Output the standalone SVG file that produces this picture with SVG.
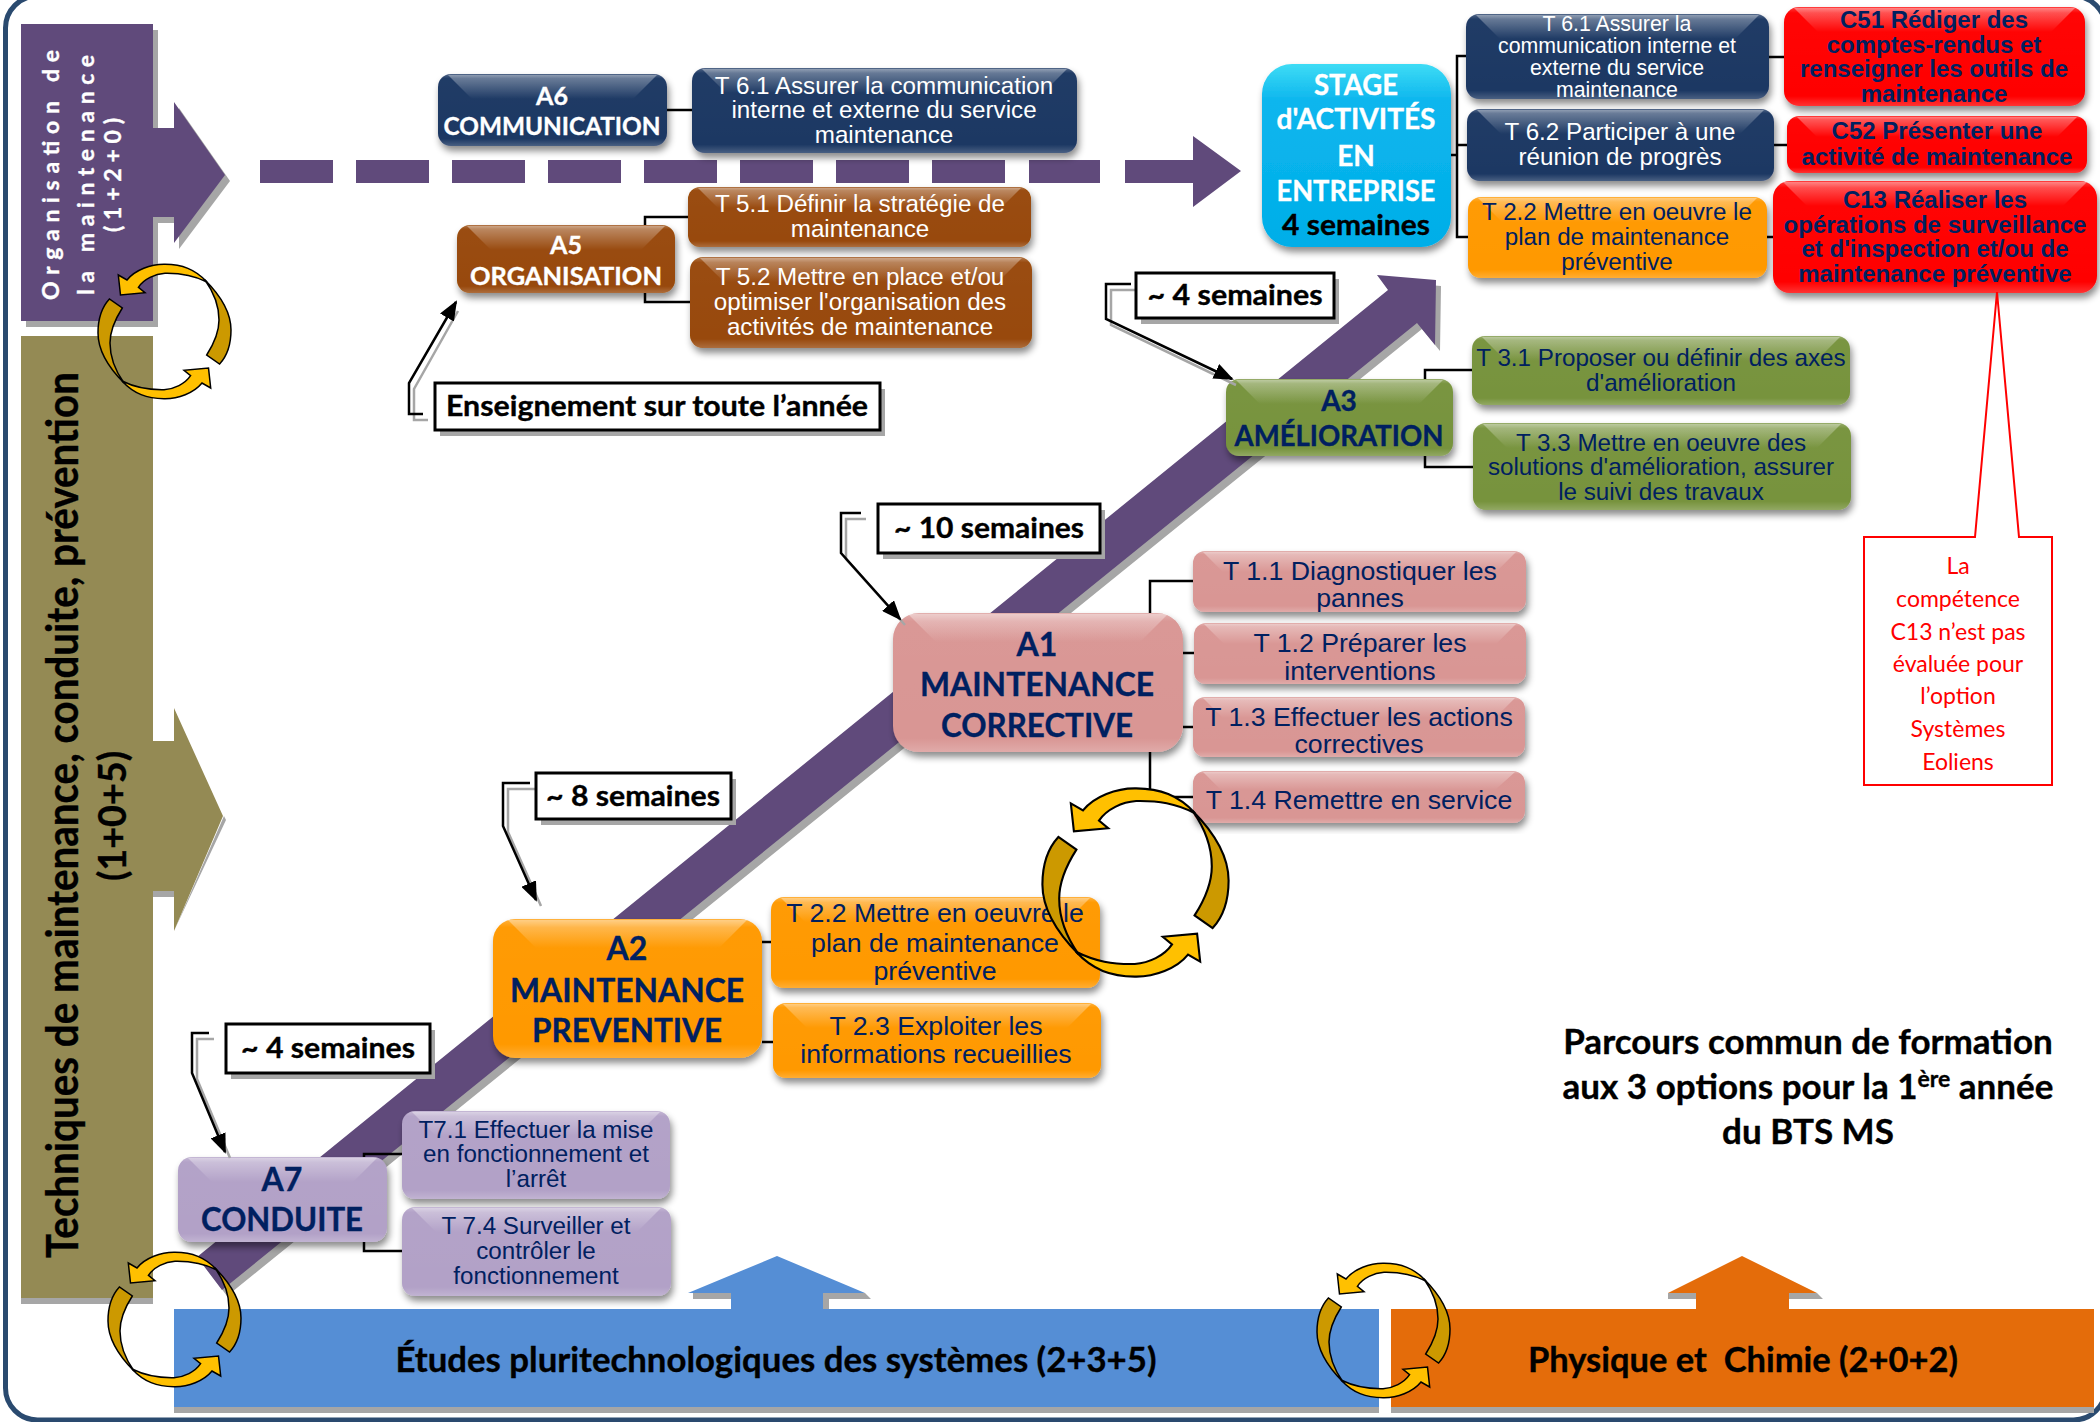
<svg xmlns="http://www.w3.org/2000/svg" width="2100" height="1422" viewBox="0 0 2100 1422">
<style>
text{text-anchor:middle}
.a{font-family:"Liberation Sans",Arial,sans-serif;font-size:24.2px}
.t{font-size:26.7px}
.ab{font-family:"Liberation Sans",Arial,sans-serif;font-size:24px;font-weight:700;fill:#002060}
.b{font-family:Lato,"Open Sans",sans-serif;font-weight:700}
.w{fill:#fff}.n{fill:#002060}.k{fill:#000}
.b.w{stroke:#fff;stroke-width:.35}.b.n{stroke:#002060;stroke-width:.35}.b.k{stroke:#000;stroke-width:.35}
.box{filter:url(#sh)}
.g{fill:url(#gloss)}
.s{fill:#a6a6a6}
.con{fill:none;stroke:#000;stroke-width:2.5}
.cb{fill:#fff;stroke:#000;stroke-width:3}
.cs{fill:#a6a6a6}
.lead{fill:none;stroke:#000;stroke-width:2.5}
.leads{fill:none;stroke:#a6a6a6;stroke-width:2.5}
.cy{stroke:#000;stroke-width:1.5;stroke-linejoin:miter}
</style>
<defs>
<filter id="sh" x="-10%" y="-15%" width="120%" height="135%"><feDropShadow dx="2" dy="5" stdDeviation="3.5" flood-color="#000" flood-opacity="0.45"/></filter>
<linearGradient id="gloss" x1="0" y1="0" x2="0" y2="1"><stop offset="0" stop-color="#fff" stop-opacity="0.38"/><stop offset="1" stop-color="#fff" stop-opacity="0"/></linearGradient>
<linearGradient id="lip" x1="0" y1="0" x2="0" y2="1"><stop offset="0" stop-color="#fff" stop-opacity="0.25"/><stop offset="0.06" stop-color="#fff" stop-opacity="0.02"/><stop offset="0.9" stop-color="#fff" stop-opacity="0"/><stop offset="1" stop-color="#fff" stop-opacity="0.2"/></linearGradient>
<linearGradient id="stg" x1="0" y1="0" x2="0" y2="1"><stop offset="0" stop-color="#3fdcf5"/><stop offset="0.2" stop-color="#0cb6ee"/><stop offset="1" stop-color="#00aee8"/></linearGradient>
<marker id="ah" markerWidth="22" markerHeight="16" refX="18" refY="8" orient="auto" markerUnits="userSpaceOnUse"><path d="M0,0L20,8L0,16Z" fill="#000"/></marker>
<g id="half"><path class="cy" fill="#ffc000" d="M21.3,11L30,16C38,6 54,0 68,0.3C85,0.5 98,5 110,18C96,11 84,9 68,9.3C58,10 47,15 41.4,23.3L48,28.7L23.5,31Z"/><path class="cy" fill="#cc9900" d="M108,16C124,32 134,48 134,66C134,80 130,92 122.6,100L109.7,91C118,78 122,66 122,56C122,42 118,30 108,16Z"/></g>
<g id="cycle"><use href="#half"/><use href="#half" transform="rotate(180 67.5 67.5)"/></g>
</defs>
<rect width="2100" height="1422" fill="#fff"/>
<rect x="5.5" y="-4" width="2100" height="1424" rx="32" fill="none" stroke="#2a4a6f" stroke-width="5"/>

<g id="bande-organisation">
<path class="s" d="M26,30H158V134H179V108L230,181L179,249V223H158V327H26Z"/>
<path fill="#604a7b" d="M21,24H153V128H174V102L225,175L174,243V217H153V321H21Z"/>
<g class="b w" font-size="23" transform="rotate(-90)">
<text x="-175" y="59" textLength="250" lengthAdjust="spacing">Organisation de</text>
<text x="-175" y="94" textLength="240" lengthAdjust="spacing">la maintenance</text>
<text x="-175" y="121" textLength="114" lengthAdjust="spacing">(1+2+0)</text>
</g>
</g>
<g id="bande-techniques">
<path class="s" d="M21,1290H153V1304H21ZM153,891H175V897H153ZM174,931L226,820L224,816Z"/>
<path fill="#948a54" d="M21,336H153V741H174V708L223,816L174,931V891H153V1298H21Z"/>
<g class="b k" transform="rotate(-90)">
<text x="-815" y="78" font-size="43" textLength="886" lengthAdjust="spacingAndGlyphs">Techniques de maintenance, conduite, prévention</text>
<text x="-816" y="126" font-size="38" textLength="130" lengthAdjust="spacingAndGlyphs">(1+0+5)</text>
</g>
</g>

<g id="fleche-tirets">
<path fill="#604a7b" d="M260,160h73v23h-73ZM356,160h73v23h-73ZM452,160h73v23h-73ZM548,160h73v23h-73ZM644,160h73v23h-73ZM740,160h73v23h-73ZM836,160h73v23h-73ZM932,160h73v23h-73ZM1029,160h71v23h-71ZM1125,160h68V136L1241,171L1193,207V183h-68Z"/>
</g>
<g id="fleche-diagonale">
<path class="s" d="M202,1263L1393,296L1382,281L1441,286L1440,351L1422,329L227,1296Z"/>
<path fill="#604a7b" d="M197,1257L1388,290L1377,275L1436,280L1435,345L1417,323L222,1290Z"/>
</g>

<g id="connecteurs">
<path class="con" d="M667,110H692M645,225V217H690M645,293V302H690"/>
<path class="con" d="M1451,155H1457M1466,56H1457V237H1468M1457,145H1467M1769,57H1784M1774,145H1787M1767,237H1773"/>
<path class="con" d="M1425,379V370H1472M1425,456V467H1473"/>
<path class="con" d="M1150,613V581H1193M1150,752V797H1193M1183,653H1194M1183,727H1193"/>
<path class="con" d="M762,942H771M762,1042H773"/>
<path class="con" d="M364,1157V1154H402M364,1242V1251H402"/>
</g>

<g id="A6"><rect class="box" x="438" y="74" width="229" height="72" rx="13" fill="#1f3864"/><path class="g" d="M448,75H657L633,99H472Z"/><rect x="438" y="74" width="229" height="72" rx="13" fill="url(#lip)"/><text class="b w" x="552" y="105" font-size="25">A6</text><text class="b w" x="552" y="135" font-size="25" textLength="217" lengthAdjust="spacingAndGlyphs">COMMUNICATION</text></g>
<g id="T6-1a"><rect class="box" x="692" y="68" width="385" height="85" rx="13" fill="#1f3864"/><path class="g" d="M702,69H1067L1043,93H726Z"/><rect x="692" y="68" width="385" height="85" rx="13" fill="url(#lip)"/><text class="a w" x="884" y="94">T 6.1 Assurer la communication</text><text class="a w" x="884" y="118">interne et externe du service</text><text class="a w" x="884" y="143">maintenance</text></g>
<g id="A5"><rect class="box" x="457" y="225" width="218" height="68" rx="13" fill="#984807"/><path class="g" d="M467,226H665L641,250H491Z"/><rect x="457" y="225" width="218" height="68" rx="13" fill="url(#lip)"/><text class="b w" x="566" y="254" font-size="25">A5</text><text class="b w" x="566" y="285" font-size="25" textLength="192" lengthAdjust="spacingAndGlyphs">ORGANISATION</text></g>
<g id="T5-1"><rect class="box" x="688" y="187" width="343" height="60" rx="12" fill="#984807"/><path class="g" d="M698,188H1021L1001,208H718Z"/><rect x="688" y="187" width="343" height="60" rx="12" fill="url(#lip)"/><text class="a w" x="860" y="212">T 5.1 Définir la stratégie de</text><text class="a w" x="860" y="237">maintenance</text></g>
<g id="T5-2"><rect class="box" x="690" y="257" width="342" height="91" rx="13" fill="#984807"/><path class="g" d="M700,258H1022L998,282H724Z"/><rect x="690" y="257" width="342" height="91" rx="13" fill="url(#lip)"/><text class="a w" x="860" y="285">T 5.2 Mettre en place et/ou</text><text class="a w" x="860" y="310">optimiser l'organisation des</text><text class="a w" x="860" y="335">activités de maintenance</text></g>

<g id="stage"><rect class="box" x="1262" y="64" width="189" height="183" rx="30" fill="url(#stg)"/>
<text class="b w" x="1356" y="95" font-size="28" textLength="84" lengthAdjust="spacingAndGlyphs">STAGE</text><text class="b w" x="1356" y="129" font-size="28" textLength="159" lengthAdjust="spacingAndGlyphs">d'ACTIVITÉS</text><text class="b w" x="1356" y="166" font-size="28">EN</text><text class="b w" x="1356" y="201" font-size="28" textLength="159" lengthAdjust="spacingAndGlyphs">ENTREPRISE</text><text class="b k" x="1356" y="235" font-size="28" textLength="148" lengthAdjust="spacingAndGlyphs">4 semaines</text></g>
<g id="T6-1b"><rect class="box" x="1466" y="14" width="303" height="85" rx="13" fill="#1f3864"/><path class="g" d="M1476,15H1759L1735,39H1500Z"/><rect x="1466" y="14" width="303" height="85" rx="13" fill="url(#lip)"/><g class="a w" style="font-size:21.3px"><text x="1617" y="31">T 6.1 Assurer la</text><text x="1617" y="53">communication interne et</text><text x="1617" y="75">externe du service</text><text x="1617" y="97">maintenance</text></g></g>
<g id="T6-2"><rect class="box" x="1467" y="109" width="307" height="72" rx="13" fill="#1f3864"/><path class="g" d="M1477,110H1764L1740,134H1501Z"/><rect x="1467" y="109" width="307" height="72" rx="13" fill="url(#lip)"/><text class="a w" x="1620" y="140">T 6.2 Participer à une</text><text class="a w" x="1620" y="165">réunion de progrès</text></g>
<g id="T2-2b"><rect class="box" x="1468" y="197" width="299" height="81" rx="13" fill="#ff9900"/><path class="g" d="M1478,198H1757L1733,222H1502Z"/><rect x="1468" y="197" width="299" height="81" rx="13" fill="url(#lip)"/><text class="a n" x="1617" y="220">T 2.2 Mettre en oeuvre le</text><text class="a n" x="1617" y="245">plan de maintenance</text><text class="a n" x="1617" y="270">préventive</text></g>
<g id="C51"><rect class="box" x="1784" y="7" width="301" height="99" rx="15" fill="#ff0000"/><path class="g" d="M1794,8H2075L2051,32H1818Z"/><rect x="1784" y="7" width="301" height="99" rx="15" fill="url(#lip)"/><text class="ab" x="1934" y="28">C51 Rédiger des</text><text class="ab" x="1934" y="53">comptes-rendus et</text><text class="ab" x="1934" y="77">renseigner les outils de</text><text class="ab" x="1934" y="102">maintenance</text></g>
<g id="C52"><rect class="box" x="1787" y="116" width="300" height="57" rx="12" fill="#ff0000"/><path class="g" d="M1797,117H2077L2057,137H1817Z"/><rect x="1787" y="116" width="300" height="57" rx="12" fill="url(#lip)"/><text class="ab" x="1937" y="139">C52 Présenter une</text><text class="ab" x="1937" y="165">activité de maintenance</text></g>
<g id="C13"><rect class="box" x="1773" y="181" width="324" height="112" rx="17" fill="#ff0000"/><path class="g" d="M1783,182H2087L2063,206H1807Z"/><rect x="1773" y="181" width="324" height="112" rx="17" fill="url(#lip)"/><text class="ab" x="1935" y="208">C13 Réaliser les</text><text class="ab" x="1935" y="233">opérations de surveillance</text><text class="ab" x="1935" y="257">et d'inspection et/ou de</text><text class="ab" x="1935" y="282">maintenance préventive</text></g>
<g id="A3"><rect class="box" x="1226" y="379" width="227" height="77" rx="13" fill="#77933c"/><path class="g" d="M1236,380H1443L1419,404H1260Z"/><rect x="1226" y="379" width="227" height="77" rx="13" fill="url(#lip)"/><text class="b n" x="1339" y="411" font-size="28">A3</text><text class="b n" x="1339" y="446" font-size="28" textLength="209" lengthAdjust="spacingAndGlyphs">AMÉLIORATION</text></g>
<g id="T3-1"><rect class="box" x="1472" y="336" width="378" height="69" rx="13" fill="#77933c"/><path class="g" d="M1482,337H1840L1816,361H1506Z"/><rect x="1472" y="336" width="378" height="69" rx="13" fill="url(#lip)"/><text class="a n" x="1661" y="366">T 3.1 Proposer ou définir des axes</text><text class="a n" x="1661" y="391">d'amélioration</text></g>
<g id="T3-3"><rect class="box" x="1473" y="423" width="378" height="87" rx="13" fill="#77933c"/><path class="g" d="M1483,424H1841L1817,448H1507Z"/><rect x="1473" y="423" width="378" height="87" rx="13" fill="url(#lip)"/><text class="a n" x="1661" y="451">T 3.3 Mettre en oeuvre des</text><text class="a n" x="1661" y="475">solutions d'amélioration, assurer</text><text class="a n" x="1661" y="500">le suivi des travaux</text></g>
<g id="A1"><rect class="box" x="893" y="613" width="290" height="139" rx="26" fill="#d99694"/><path class="g" d="M908,614H1168L1140,642H936Z"/><rect x="893" y="613" width="290" height="139" rx="26" fill="url(#lip)"/><text class="b n" x="1037" y="656" font-size="32">A1</text><text class="b n" x="1037" y="696" font-size="32" textLength="234" lengthAdjust="spacingAndGlyphs">MAINTENANCE</text><text class="b n" x="1037" y="737" font-size="32" textLength="192" lengthAdjust="spacingAndGlyphs">CORRECTIVE</text></g>
<g id="T1-1"><rect class="box" x="1193" y="551" width="333" height="61" rx="12" fill="#d99694"/><path class="g" d="M1203,552H1516L1496,572H1223Z"/><rect x="1193" y="551" width="333" height="61" rx="12" fill="url(#lip)"/><g class="a n t"><text x="1360" y="580">T 1.1 Diagnostiquer les</text><text x="1360" y="607">pannes</text></g></g>
<g id="T1-2"><rect class="box" x="1194" y="623" width="332" height="61" rx="12" fill="#d99694"/><path class="g" d="M1204,624H1516L1496,644H1224Z"/><rect x="1194" y="623" width="332" height="61" rx="12" fill="url(#lip)"/><g class="a n t"><text x="1360" y="652">T 1.2 Préparer les</text><text x="1360" y="680">interventions</text></g></g>
<g id="T1-3"><rect class="box" x="1193" y="697" width="332" height="60" rx="12" fill="#d99694"/><path class="g" d="M1203,698H1515L1495,718H1223Z"/><rect x="1193" y="697" width="332" height="60" rx="12" fill="url(#lip)"/><g class="a n t"><text x="1359" y="726">T 1.3 Effectuer les actions</text><text x="1359" y="753">correctives</text></g></g>
<g id="T1-4"><rect class="box" x="1193" y="771" width="332" height="52" rx="12" fill="#d99694"/><path class="g" d="M1203,772H1515L1495,790H1221Z"/><rect x="1193" y="771" width="332" height="52" rx="12" fill="url(#lip)"/><g class="a n t"><text x="1359" y="809">T 1.4 Remettre en service</text></g></g>
<g id="A2"><rect class="box" x="493" y="919" width="269" height="139" rx="22" fill="#ff9900"/><path class="g" d="M508,920H747L719,948H536Z"/><rect x="493" y="919" width="269" height="139" rx="22" fill="url(#lip)"/><text class="b n" x="627" y="960" font-size="32">A2</text><text class="b n" x="627" y="1002" font-size="32" textLength="234" lengthAdjust="spacingAndGlyphs">MAINTENANCE</text><text class="b n" x="627" y="1042" font-size="32" textLength="190" lengthAdjust="spacingAndGlyphs">PREVENTIVE</text></g>
<g id="T2-2a"><rect class="box" x="771" y="897" width="329" height="91" rx="13" fill="#ff9900"/><path class="g" d="M781,898H1090L1066,922H805Z"/><rect x="771" y="897" width="329" height="91" rx="13" fill="url(#lip)"/><g class="a n t"><text x="935" y="922">T 2.2 Mettre en oeuvre le</text><text x="935" y="952">plan de maintenance</text><text x="935" y="980">préventive</text></g></g>
<g id="T2-3"><rect class="box" x="773" y="1003" width="328" height="75" rx="13" fill="#ff9900"/><path class="g" d="M783,1004H1091L1067,1028H807Z"/><rect x="773" y="1003" width="328" height="75" rx="13" fill="url(#lip)"/><g class="a n t"><text x="936" y="1035">T 2.3 Exploiter les</text><text x="936" y="1063">informations recueillies</text></g></g>
<g id="A7"><rect class="box" x="178" y="1157" width="209" height="85" rx="14" fill="#b2a1c7"/><path class="g" d="M188,1158H377L353,1182H212Z"/><rect x="178" y="1157" width="209" height="85" rx="14" fill="url(#lip)"/><text class="b n" x="282" y="1191" font-size="32">A7</text><text class="b n" x="282" y="1231" font-size="32" textLength="162" lengthAdjust="spacingAndGlyphs">CONDUITE</text></g>
<g id="T7-1"><rect class="box" x="402" y="1111" width="268" height="88" rx="13" fill="#b2a1c7"/><path class="g" d="M412,1112H660L636,1136H436Z"/><rect x="402" y="1111" width="268" height="88" rx="13" fill="url(#lip)"/><text class="a n" x="536" y="1138">T7.1 Effectuer la mise</text><text class="a n" x="536" y="1162">en fonctionnement et</text><text class="a n" x="536" y="1187">l’arrêt</text></g>
<g id="T7-4"><rect class="box" x="402" y="1207" width="269" height="89" rx="13" fill="#b2a1c7"/><path class="g" d="M412,1208H661L637,1232H436Z"/><rect x="402" y="1207" width="269" height="89" rx="13" fill="url(#lip)"/><text class="a n" x="536" y="1234">T 7.4 Surveiller et</text><text class="a n" x="536" y="1259">contrôler le</text><text class="a n" x="536" y="1284">fonctionnement</text></g>

<g id="note-C13"><path fill="#fff" stroke="#ff0000" stroke-width="2" d="M1864,537H1975L1997,292L2019,537H2052V785H1864Z"/><g font-family="Lato,sans-serif" fill="#ff0000" font-size="23"><text x="1958" y="574">La</text><text x="1958" y="607">compétence</text><text x="1958" y="640">C13 n’est pas</text><text x="1958" y="672">évaluée pour</text><text x="1958" y="704">l’option</text><text x="1958" y="737">Systèmes</text><text x="1958" y="770">Eoliens</text></g></g>

<g id="bande-etudes">
<path class="s" d="M174,1400H1379V1413H174ZM693,1293H865L871,1299H829V1309H731V1299H693Z"/>
<path fill="#558ed5" d="M174,1309H731V1293H688L777,1256L865,1293H823V1309H1379V1407H174Z"/>
<text class="b k" x="776" y="1372" font-size="34" textLength="761" lengthAdjust="spacingAndGlyphs">Études pluritechnologiques des systèmes (2+3+5)</text>
</g>
<g id="bande-physique">
<path class="s" d="M1391,1400H2094V1413H1391ZM1668,1293H1817L1823,1299H1789V1309H1696V1299H1668Z"/>
<path fill="#e46c0a" d="M1391,1309H1696V1293H1668L1742,1256L1817,1293H1789V1309H2094V1407H1391Z"/>
<text class="b k" x="1743" y="1372" font-size="34" textLength="430" lengthAdjust="spacingAndGlyphs" xml:space="preserve">Physique et  Chimie (2+0+2)</text>
</g>

<g id="titre" class="b k" font-size="35"><text x="1808" y="1054">Parcours commun de formation</text><text x="1808" y="1099">aux 3 options pour la 1<tspan font-size="23" dy="-12">ère</tspan><tspan dy="12"> année</tspan></text><text x="1808" y="1144">du BTS MS</text></g>

<g id="cal-ens"><path class="leads" d="M428,420H414V389L458,311"/><path class="lead" marker-end="url(#ah)" d="M423,414H409V383L456,302"/><rect class="cs" x="440" y="389" width="445" height="47"/><rect class="cb" x="435" y="383" width="445" height="47"/><text class="b k" x="657" y="416" font-size="28" textLength="422" lengthAdjust="spacingAndGlyphs">Enseignement sur toute l’année</text></g>
<g id="cal-a3"><path class="leads" d="M1136,290H1111V325L1236,385"/><path class="lead" marker-end="url(#ah)" d="M1131,284H1106V319L1232,379"/><rect class="cs" x="1141" y="279" width="198" height="45"/><rect class="cb" x="1136" y="273" width="198" height="45"/><text class="b k" x="1235" y="305" font-size="28" textLength="175" lengthAdjust="spacingAndGlyphs">~ 4 semaines</text></g>
<g id="cal-a1"><path class="leads" d="M866,519H846V559L905,625"/><path class="lead" marker-end="url(#ah)" d="M861,513H841V553L900,619"/><rect class="cs" x="883" y="510" width="222" height="49"/><rect class="cb" x="878" y="504" width="222" height="49"/><text class="b k" x="989" y="538" font-size="28" textLength="190" lengthAdjust="spacingAndGlyphs">~ 10 semaines</text></g>
<g id="cal-a2"><path class="leads" d="M535,789H508V832L541,906"/><path class="lead" marker-end="url(#ah)" d="M530,783H503V826L536,900"/><rect class="cs" x="541" y="779" width="195" height="46"/><rect class="cb" x="536" y="773" width="195" height="46"/><text class="b k" x="633" y="806" font-size="28" textLength="174" lengthAdjust="spacingAndGlyphs">~ 8 semaines</text></g>
<g id="cal-a7"><path class="leads" d="M214,1039H197V1079L230,1158"/><path class="lead" marker-end="url(#ah)" d="M209,1033H192V1073L225,1152"/><rect class="cs" x="231" y="1030" width="204" height="49"/><rect class="cb" x="226" y="1024" width="204" height="49"/><text class="b k" x="328" y="1058" font-size="28" textLength="174" lengthAdjust="spacingAndGlyphs">~ 4 semaines</text></g>

<use id="cycle-1" href="#cycle" transform="translate(97,264)"/>
<use id="cycle-2" href="#cycle" transform="translate(1041,788) scale(1.4)"/>
<use id="cycle-3" href="#cycle" transform="translate(107,1252)"/>
<use id="cycle-4" href="#cycle" transform="translate(1316,1263)"/>
</svg>
